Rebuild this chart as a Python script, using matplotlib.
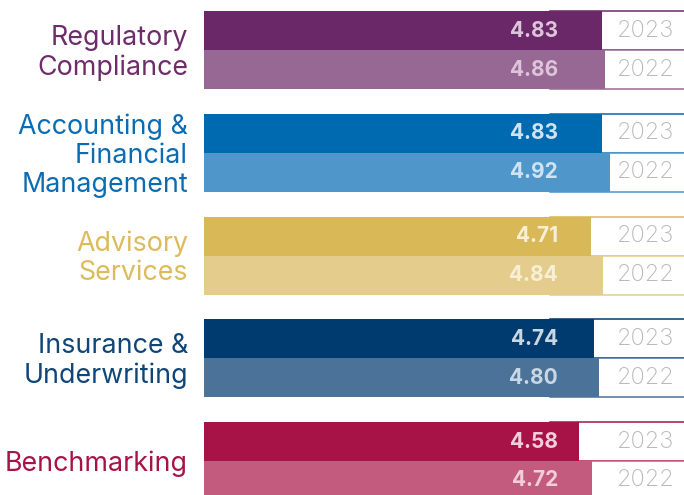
import matplotlib
matplotlib.use("Agg")
import matplotlib.pyplot as plt
from matplotlib.patches import Rectangle
from matplotlib.transforms import blended_transform_factory

categories = ["Regulatory\nCompliance", "Accounting &\nFinancial\nManagement",
              "Advisory\nServices", "Insurance &\nUnderwriting", "Benchmarking"]
values_2023 = [4.83, 4.83, 4.71, 4.74, 4.58]
values_2022 = [4.86, 4.92, 4.84, 4.80, 4.72]
years = ["2023", "2022"]

colors_2023 = ["#6b2868", "#006ab0", "#d9b857", "#003b6f", "#a71347"]
colors_2022 = ["#976893", "#4f97ca", "#e4cd8c", "#4b7399", "#c25b7d"]
label_colors = ["#6e2c6b", "#0a6db4", "#dcbb5c", "#0f4577", "#a71347"]
value_colors = ["#dcc5da", "#cfe3f2", "#f7efd6", "#c9d6e4", "#f2cdda"]

plt.rcParams['font.family'] = ['Inter', 'DejaVu Sans']

W, H = 684, 495
fig = plt.figure(figsize=(W / 100, H / 100), dpi=100)
x0 = 204
ax = fig.add_axes([x0 / W, 0, (W - x0) / W, 1])
ax.set_xlim(0.52, 0.52 + (W - x0) / 92.3)
pitch = 102.75
top_px = 50.0
ax.set_ylim((H - top_px) / pitch, -top_px / pitch)
ax.axis('off')

bh = 39 / pitch
n = len(categories)
ys23 = [i - bh / 2 for i in range(n)]
ys22 = [i + bh / 2 for i in range(n)]

tr = blended_transform_factory(ax.transAxes, ax.transData)

def ax_x(px):
    return (px - x0) / (W - x0)

# year boxes behind bars
for i in range(n):
    for y, c in ((ys23[i], colors_2023[i]), (ys22[i], colors_2022[i])):
        r = Rectangle((ax_x(550), y - bh / 2), 0.5, bh, transform=tr,
                      facecolor="white", edgecolor=c, linewidth=1.1,
                      zorder=1, clip_on=False)
        ax.add_patch(r)

ax.barh(ys23, values_2023, height=bh, left=0, color=colors_2023, zorder=2)
ax.barh(ys22, values_2022, height=bh, left=0, color=colors_2022, zorder=2)

for i in range(n):
    ax.text(ax_x(188), i + 3 / pitch, categories[i], transform=tr, ha="right",
            va="center", fontsize=19.3, color=label_colors[i],
            linespacing=1.17, fontweight="normal", clip_on=False)
    for y, v in ((ys23[i], values_2023[i]), (ys22[i], values_2022[i])):
        ax.text(ax_x(558), y, f"{v:.2f}", transform=tr, ha="right",
                va="center", fontsize=15, fontweight="bold",
                color=value_colors[i], zorder=3)
    for y, yr in ((ys23[i], years[0]), (ys22[i], years[1])):
        ax.text(ax_x(645.5), y, yr, transform=tr, ha="center", va="center",
                fontsize=17, color="#b8b8b8", fontweight="light", zorder=3)

fig.savefig("out.png", dpi=100)
